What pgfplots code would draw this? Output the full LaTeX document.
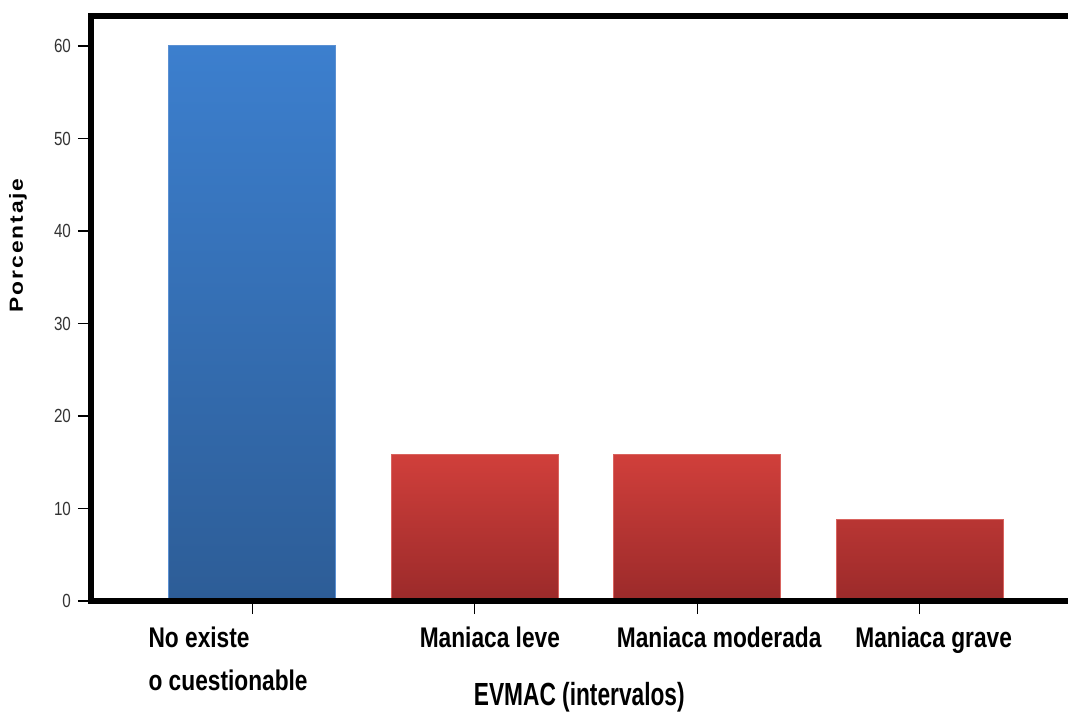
\documentclass[border=0pt]{standalone}
\usepackage{pgfplots}
\pgfplotsset{compat=1.18}
\usepackage{fontspec}
\setmainfont{Liberation Sans}
\newfontfamily\cond{Liberation Sans}[FakeStretch=0.8]
\newfontfamily\condx{Liberation Sans}[FakeStretch=0.71]
\newfontfamily\condt{Liberation Sans}[FakeStretch=0.8]
\newfontfamily\wide{Liberation Sans}[FakeStretch=1.2,LetterSpace=10]
\definecolor{bluetop}{HTML}{3C7FCE}
\definecolor{bluebot}{HTML}{2D5D97}
\definecolor{blueedge}{HTML}{5B90D2}
\definecolor{redtop}{HTML}{D03F3B}
\definecolor{redbot}{HTML}{9B2A2A}
\definecolor{rededge}{HTML}{D9635E}
\begin{document}
\begin{tikzpicture}
\begin{axis}[
  scale only axis, width=488.5pt, height=292.5pt,
  xmin=-0.725, xmax=3.667, ymin=0, ymax=63.24,
  axis line style={draw=none},
  ytick={0,10,...,60}, xtick={0,1,2,3}, xticklabels={},
  tick pos=left,
  tick align=outside, major tick length=6.5pt,
  tick style={black, line width=0.6pt},
  /pgf/number format/assume math mode=true,
  yticklabel style={font=\condt\fontsize{9.5}{10}\selectfont, text=black!80},
  ylabel={Porcentaje},
  ylabel style={at={(axis description cs:-0.0747,0.608)}, anchor=center, font=\wide\bfseries\fontsize{9.5}{10}\selectfont},
  clip=false,
  ybar, bar width=83.5pt,
]
\addplot[ybar, bar shift=0pt, draw=blueedge, line width=0.5pt, top color=bluetop, bottom color=bluebot] coordinates {(0,60)};
\addplot[ybar, bar shift=0pt, draw=rededge, line width=0.5pt, top color=redtop, bottom color=redbot] coordinates {(1,15.8) (2,15.8) (3,8.8)};
\draw[line width=2.6pt] (rel axis cs:1,1) -- (rel axis cs:0,1) -- (rel axis cs:0,0) -- (rel axis cs:1,0);
\node[anchor=base west, font=\cond\bfseries\fontsize{14.2}{15}\selectfont, inner sep=0pt] at (axis cs:-0.468,0) [yshift=-23pt] {No existe};
\node[anchor=base west, font=\cond\bfseries\fontsize{14.2}{15}\selectfont, inner sep=0pt] at (axis cs:-0.468,0) [yshift=-44.5pt] {o cuestionable};
\node[anchor=base, font=\cond\bfseries\fontsize{14.2}{15}\selectfont, inner sep=0pt] at (axis cs:1.068,0) [yshift=-23pt] {Maniaca leve};
\node[anchor=base, font=\cond\bfseries\fontsize{14.2}{15}\selectfont, inner sep=0pt] at (axis cs:2.099,0) [yshift=-23pt] {Maniaca moderada};
\node[anchor=base, font=\cond\bfseries\fontsize{14.2}{15}\selectfont, inner sep=0pt] at (axis cs:3.063,0) [yshift=-23pt] {Maniaca grave};
\node[anchor=base, font=\condx\bfseries\fontsize{16}{18}\selectfont, inner sep=0pt] at (axis cs:1.47,0) [yshift=-52pt] {EVMAC (intervalos)};
\coordinate (O) at (rel axis cs:0,0);
\end{axis}
\pgfresetboundingbox
\path ([shift={(-45.5pt,-56pt)}]O) rectangle ++(534pt,356.5pt);
\end{tikzpicture}
\end{document}
